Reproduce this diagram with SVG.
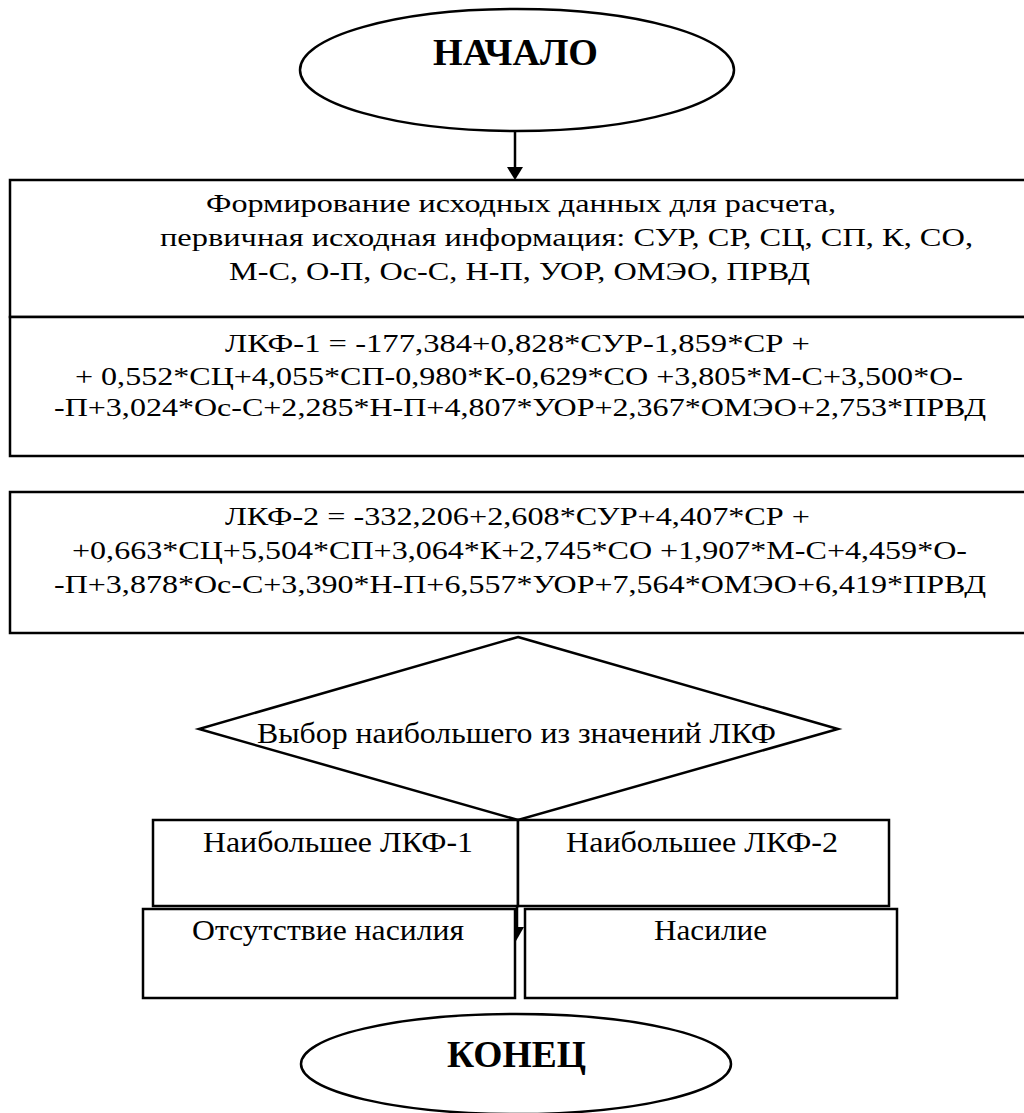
<svg xmlns="http://www.w3.org/2000/svg" width="1024" height="1113" viewBox="0 0 1024 1113">
<style>
.s{fill:#fff;stroke:#000;stroke-width:2.5}
.t{font-family:"Liberation Serif","Times New Roman",serif;font-size:26px;fill:#000}
.tl{font-family:"Liberation Serif","Times New Roman",serif;font-size:30px;fill:#000}
.b{font-family:"Liberation Serif","Times New Roman",serif;font-size:37px;font-weight:bold;fill:#000}
.c{text-anchor:middle}
</style>
<rect width="1024" height="1113" fill="#fff"/>
<g id="start">
<ellipse class="s" cx="517" cy="70" rx="217" ry="61"/>
<text class="b" x="433" y="65" textLength="165" lengthAdjust="spacingAndGlyphs">НАЧАЛО</text>
</g>
<g id="input">
<rect class="s" x="10" y="180" width="1030" height="137"/>
<text class="t" x="206" y="212" textLength="630" lengthAdjust="spacingAndGlyphs">Формирование исходных данных для расчета,</text>
<text class="t" x="160" y="246" textLength="813" lengthAdjust="spacingAndGlyphs">первичная исходная информация: СУР, СР, СЦ, СП, К, СО,</text>
<text class="t" x="229" y="280" textLength="581" lengthAdjust="spacingAndGlyphs">М-С, О-П, Ос-С, Н-П, УОР, ОМЭО, ПРВД</text>
</g>
<g id="lkf1">
<rect class="s" x="10" y="317" width="1030" height="139"/>
<text class="t" x="225" y="352" textLength="585" lengthAdjust="spacingAndGlyphs">ЛКФ-1 = -177,384+0,828*СУР-1,859*СР +</text>
<text class="t" x="75" y="385" textLength="888" lengthAdjust="spacingAndGlyphs">+ 0,552*СЦ+4,055*СП-0,980*К-0,629*СО +3,805*М-С+3,500*О-</text>
<text class="t" x="54" y="416" textLength="932" lengthAdjust="spacingAndGlyphs">-П+3,024*Ос-С+2,285*Н-П+4,807*УОР+2,367*ОМЭО+2,753*ПРВД</text>
</g>
<g id="lkf2">
<rect class="s" x="10" y="492" width="1030" height="141"/>
<text class="t" x="225" y="525" textLength="585" lengthAdjust="spacingAndGlyphs">ЛКФ-2 = -332,206+2,608*СУР+4,407*СР +</text>
<text class="t" x="72" y="559" textLength="895" lengthAdjust="spacingAndGlyphs">+0,663*СЦ+5,504*СП+3,064*К+2,745*СО +1,907*М-С+4,459*О-</text>
<text class="t" x="54" y="593" textLength="932" lengthAdjust="spacingAndGlyphs">-П+3,878*Ос-С+3,390*Н-П+6,557*УОР+7,564*ОМЭО+6,419*ПРВД</text>
</g>
<g id="choice">
<polygon class="s" points="518,637 838,729 518,820 199,729" stroke-width="2"/>
<text class="tl" x="257" y="743" textLength="519" lengthAdjust="spacingAndGlyphs">Выбор наибольшего из значений ЛКФ</text>
</g>
<g id="connectors">
<line x1="515" y1="131" x2="515" y2="169" stroke="#000" stroke-width="2.5"/>
<polygon points="507,167 523,167 515,180" fill="#000"/>
<line x1="517" y1="820" x2="517" y2="930" stroke="#000" stroke-width="2.5"/>
<polygon points="516,927 524,927 516,941" fill="#000"/>
</g>
<g id="max1">
<rect class="s" x="153" y="820" width="365" height="86"/>
<text class="tl" x="203" y="852" textLength="270" lengthAdjust="spacingAndGlyphs">Наибольшее ЛКФ-1</text>
</g>
<g id="max2">
<rect class="s" x="518" y="820" width="371" height="86"/>
<text class="tl" x="566" y="852" textLength="272" lengthAdjust="spacingAndGlyphs">Наибольшее ЛКФ-2</text>
</g>
<g id="noviol">
<rect class="s" x="143" y="909" width="372" height="89"/>
<text class="tl" x="192" y="940" textLength="272" lengthAdjust="spacingAndGlyphs">Отсутствие насилия</text>
</g>
<g id="viol">
<rect class="s" x="525" y="909" width="372" height="89"/>
<text class="tl" x="654" y="940" textLength="113" lengthAdjust="spacingAndGlyphs">Насилие</text>
</g>
<g id="end">
<ellipse class="s" cx="516" cy="1064" rx="215" ry="50"/>
<text class="b" x="447" y="1067" textLength="139" lengthAdjust="spacingAndGlyphs">КОНЕЦ</text>
</g>
</svg>
